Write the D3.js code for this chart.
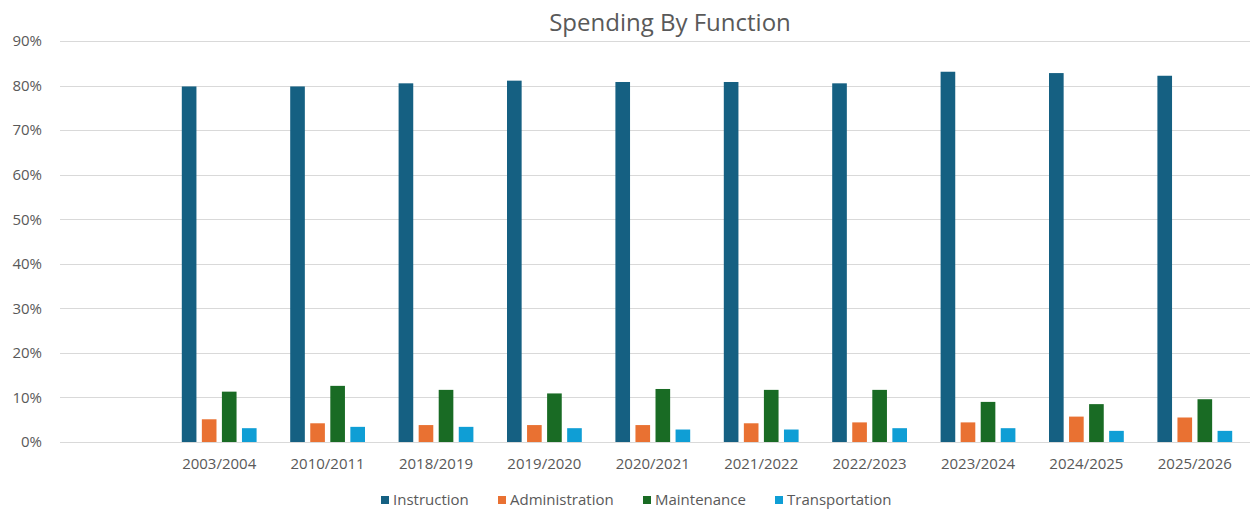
<!DOCTYPE html>
<html>
<head>
<meta charset="utf-8">
<script src="https://cdn.jsdelivr.net/npm/d3@7"></script>
<style>
  html, body { margin: 0; padding: 0; background: #ffffff; }
  svg { display: block; font-family: "Open Sans", "Noto Sans", sans-serif; }
</style>
</head>
<body>
<svg id="chart" width="1250" height="510"></svg>
<script>
// School years on the category axis
const categories = ["2003/2004", "2010/2011", "2018/2019", "2019/2020", "2020/2021",
                    "2021/2022", "2022/2023", "2023/2024", "2024/2025", "2025/2026"];

// Share of total spending per function (fraction of 1)
const instruction    = [0.798, 0.798, 0.805, 0.811, 0.808, 0.808, 0.805, 0.831, 0.828, 0.822];
const administration = [0.051, 0.042, 0.038, 0.038, 0.038, 0.042, 0.044, 0.044, 0.057, 0.055];
const maintenance    = [0.113, 0.126, 0.117, 0.109, 0.119, 0.117, 0.117, 0.090, 0.085, 0.096];
const transportation = [0.031, 0.034, 0.034, 0.031, 0.028, 0.028, 0.031, 0.031, 0.025, 0.025];

const seriesNames = ["Instruction", "Administration", "Maintenance", "Transportation"];
const seriesColors = ["#156082", "#E97132", "#196B24", "#0F9ED5"];
const yTicks = [0, 0.1, 0.2, 0.3, 0.4, 0.5, 0.6, 0.7, 0.8, 0.9];

const seriesValues = [instruction, administration, maintenance, transportation];
const rows = categories.map((c, i) => ({
  category: c,
  values: seriesNames.map((s, j) => ({ series: s, value: seriesValues[j][i] }))
}));

const svg = d3.select("#chart");
const textColor = "#595959";

const gridLeft = 60, gridRight = 1250;
const y = d3.scaleLinear().domain([0, 0.9]).range([442, 41]);

const x0 = d3.scaleBand()
  .domain(categories)
  .range([165, 1249])
  .paddingInner(0.31)
  .paddingOuter(0.155);

const x1 = d3.scaleBand()
  .domain(seriesNames)
  .range([0, x0.bandwidth()])
  .paddingInner(0.27);

const color = d3.scaleOrdinal().domain(seriesNames).range(seriesColors);

// Horizontal gridlines
svg.append("g")
  .selectAll("line")
  .data(yTicks)
  .join("line")
  .attr("x1", gridLeft)
  .attr("x2", gridRight)
  .attr("y1", d => Math.round(y(d)) + 0.5)
  .attr("y2", d => Math.round(y(d)) + 0.5)
  .attr("stroke", "#d9d9d9")
  .attr("stroke-width", 1);

// Y axis labels
const yAxis = d3.axisLeft(y)
  .tickValues(yTicks)
  .tickFormat(d3.format(".0%"))
  .tickSize(0)
  .tickPadding(0);

svg.append("g")
  .attr("transform", "translate(42,0)")
  .call(yAxis)
  .call(g => g.select(".domain").remove())
  .call(g => g.selectAll("text")
    .attr("fill", textColor)
    .style("font-size", "15px")
    .style("font-family", "'Open Sans', sans-serif"));

// Bars
const groups = svg.append("g")
  .selectAll("g")
  .data(rows)
  .join("g")
  .attr("transform", d => `translate(${x0(d.category)},0)`);

groups.selectAll("rect")
  .data(d => d.values)
  .join("rect")
  .attr("x", d => x1(d.series))
  .attr("width", x1.bandwidth())
  .attr("y", d => y(d.value))
  .attr("height", d => y(0) - y(d.value))
  .attr("fill", d => color(d.series));

// Category axis
const xAxis = d3.axisBottom(x0).tickSize(0).tickPadding(0);
svg.append("g")
  .attr("transform", "translate(0,455)")
  .call(xAxis)
  .call(g => g.select(".domain").remove())
  .call(g => g.selectAll("text")
    .attr("fill", textColor)
    .attr("dy", "0.9em")
    .style("font-size", "15px")
    .style("font-family", "'Open Sans', sans-serif"));

// Title
svg.append("text")
  .attr("x", 670)
  .attr("y", 31)
  .attr("text-anchor", "middle")
  .attr("fill", textColor)
  .style("font-size", "24px")
  .text("Spending By Function");

// Legend
const legendX = [381, 498, 643, 775];
const legend = svg.append("g")
  .selectAll("g")
  .data(seriesNames)
  .join("g")
  .attr("transform", (d, i) => `translate(${legendX[i]},500)`);

legend.append("rect")
  .attr("x", 0)
  .attr("y", -4)
  .attr("width", 8)
  .attr("height", 8)
  .attr("fill", d => color(d));

legend.append("text")
  .attr("x", 12)
  .attr("y", 0)
  .attr("dy", "0.35em")
  .attr("fill", textColor)
  .style("font-size", "15px")
  .text(d => d);
</script>
</body>
</html>
